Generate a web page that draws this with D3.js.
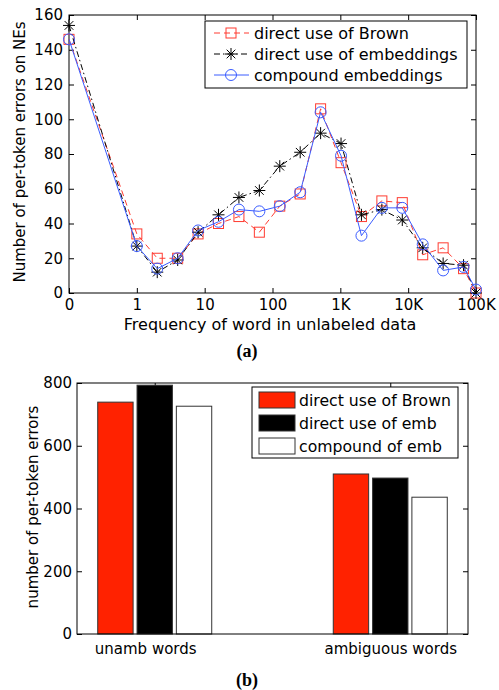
<!DOCTYPE html>
<html>
<head>
<meta charset="utf-8">
<script src="https://cdn.jsdelivr.net/npm/d3@7"></script>
<style>
body { margin: 0; background: #fff; }
text { font-family: "DejaVu Sans", Arial, sans-serif; fill: #000; }
</style>
</head>
<body>
<svg id="chart" width="499" height="690"></svg>
<script>
// ---- data: (a) errors vs word frequency
var freqs = [0, 1, 2, 4, 8, 16, 32, 64, 128, 256, 512, 1024, 2048, 4096, 8192, 16384, 32768, 65536, 100000];
var brownErr = [146, 34, 20, 20, 34, 40, 44, 35, 50, 57, 106, 75, 44, 53, 52, 22, 26, 14, 0];
var embErr = [154, 27, 12, 19, 35, 45, 55, 59, 73, 81, 92, 86, 45, 48, 42, 26, 17, 16, 0];
var compoundErr = [146, 27, 14, 20, 36, 41, 48, 47, 50, 58, 104, 79, 33, 49, 49, 28, 13, 15, 2];
var freqTicks = [0.1, 1, 10, 100, 1000, 10000, 100000];
var freqTickLabels = ["0", "1", "10", "100", "1K", "10K", "100K"];
var lineNames = ["direct use of Brown", "direct use of embeddings", "compound embeddings"];

// ---- data: (b) errors by word type
var wordTypes = ["unamb words    ", "ambiguous words"];
var barNames = ["direct use of Brown", "direct use of emb", "compound of emb"];
var brownBars = [739, 510];
var embBars = [793, 497];
var compoundBars = [726, 436];

var svg = d3.select("#chart");

// =========== chart (a) ===========
var x = d3.scaleLog().domain([0.1, 100000]).range([69, 476]);
var y = d3.scaleLinear().domain([0, 160]).range([293, 15]);
var fx = function(f) { return x(f === 0 ? 0.1 : f); };

var ga = svg.append("g");

ga.append("g")
    .attr("transform", "translate(0,293)")
    .call(d3.axisBottom(x).tickValues(freqTicks)
        .tickFormat(function(d, i) { return freqTickLabels[i]; })
        .tickSizeInner(-5).tickSizeOuter(0).tickPadding(6));
ga.append("g")
    .attr("transform", "translate(0,15)")
    .call(d3.axisTop(x).tickValues(freqTicks).tickFormat("")
        .tickSizeInner(-5).tickSizeOuter(0));
ga.append("g")
    .attr("transform", "translate(69,0)")
    .call(d3.axisLeft(y).ticks(8).tickSizeInner(-5).tickSizeOuter(0).tickPadding(6));
ga.append("g")
    .attr("transform", "translate(476,0)")
    .call(d3.axisRight(y).ticks(8).tickFormat("").tickSizeInner(-5).tickSizeOuter(0));
ga.selectAll(".domain").remove();
ga.selectAll(".tick text").attr("font-size", 15).attr("font-family", null);
ga.append("rect").attr("x", 69).attr("y", 15).attr("width", 476 - 69).attr("height", 293 - 15)
    .attr("fill", "none").attr("stroke", "#000");

var line = d3.line().x(function(d, i) { return fx(freqs[i]); }).y(function(d) { return y(d); });

var red = "#ff3b30", blue = "#3a5cff";

function squareMark(g, cx, cy, col) {
    g.append("rect").attr("x", cx - 5).attr("y", cy - 5).attr("width", 10).attr("height", 10)
        .attr("fill", "none").attr("stroke", col);
}
function starMark(g, cx, cy, col) {
    var r = 6;
    [[-r, 0, r, 0], [0, -r, 0, r], [-r * .72, -r * .72, r * .72, r * .72], [-r * .72, r * .72, r * .72, -r * .72]]
        .forEach(function(s) {
            g.append("line").attr("x1", cx + s[0]).attr("y1", cy + s[1]).attr("x2", cx + s[2]).attr("y2", cy + s[3])
                .attr("stroke", col);
        });
}
function circleMark(g, cx, cy, col) {
    g.append("circle").attr("cx", cx).attr("cy", cy).attr("r", 5.5).attr("fill", "none").attr("stroke", col);
}

var series = [
    { vals: brownErr, col: red, dash: "6,4", mark: squareMark },
    { vals: embErr, col: "#000", dash: "6,3,1.5,3", mark: starMark },
    { vals: compoundErr, col: blue, dash: null, mark: circleMark }
];

series.forEach(function(s) {
    ga.append("path").datum(s.vals).attr("d", line).attr("fill", "none")
        .attr("stroke", s.col).attr("stroke-width", 1).attr("stroke-dasharray", s.dash);
    var mg = ga.append("g");
    s.vals.forEach(function(v, i) { s.mark(mg, fx(freqs[i]), y(v), s.col); });
});

// legend (a)
var la = ga.append("g");
la.append("rect").attr("x", 205).attr("y", 21).attr("width", 262).attr("height", 67)
    .attr("fill", "#fff").attr("stroke", "#000");
series.forEach(function(s, i) {
    var cy = 33 + i * 21;
    la.append("line").attr("x1", 214).attr("x2", 249).attr("y1", cy).attr("y2", cy)
        .attr("stroke", s.col).attr("stroke-dasharray", s.dash);
    s.mark(la, 231, cy, s.col);
    la.append("text").attr("x", 254).attr("y", cy + 6).attr("font-size", 16).text(lineNames[i]);
});

ga.append("text").attr("transform", "translate(25,152) rotate(-90)")
    .attr("text-anchor", "middle").attr("font-size", 15).text("Number of per-token errors on NEs");
ga.append("text").attr("x", 270).attr("y", 330).attr("text-anchor", "middle")
    .attr("font-size", 16).text("Frequency of word in unlabeled data");
ga.append("text").attr("x", 247).attr("y", 357).attr("text-anchor", "middle")
    .attr("font-size", 18).attr("font-weight", "bold").style("font-family", "'Liberation Serif', 'Times New Roman', serif")
    .text("(a)");

// =========== chart (b) ===========
var gb = svg.append("g");
var yb = d3.scaleLinear().domain([0, 800]).range([634, 383]);
var xb = d3.scalePoint().domain(wordTypes).range([77, 468]).padding(0.33);
var xs = d3.scaleBand().domain(barNames).range([-57, 57]).paddingInner(0.1);
var barVals = [brownBars, embBars, compoundBars];
var barCols = ["#ff2200", "#000", "#fff"];

gb.append("g")
    .attr("transform", "translate(77,0)")
    .call(d3.axisLeft(yb).ticks(4).tickSizeInner(-5).tickSizeOuter(0).tickPadding(5));
gb.append("g")
    .attr("transform", "translate(468,0)")
    .call(d3.axisRight(yb).ticks(4).tickFormat("").tickSizeInner(-5).tickSizeOuter(0));
gb.append("g")
    .attr("transform", "translate(0,383)")
    .call(d3.axisTop(xb).tickFormat("").tickSizeInner(-5).tickSizeOuter(0));

wordTypes.forEach(function(w, j) {
    barNames.forEach(function(b, k) {
        gb.append("rect")
            .attr("x", xb(w) + xs(b)).attr("y", yb(barVals[k][j]))
            .attr("width", xs.bandwidth()).attr("height", yb(0) - yb(barVals[k][j]))
            .attr("fill", barCols[k]).attr("stroke", "#333");
    });
});

gb.append("g")
    .attr("transform", "translate(0,634)")
    .call(d3.axisBottom(xb).tickSize(0).tickPadding(9));
gb.selectAll(".domain").remove();
gb.selectAll(".tick text").attr("font-size", 15).attr("font-family", null).style("white-space", "pre");
gb.append("rect").attr("x", 77).attr("y", 383).attr("width", 468 - 77).attr("height", 634 - 383)
    .attr("fill", "none").attr("stroke", "#000");

// legend (b)
var lb = gb.append("g");
lb.append("rect").attr("x", 252).attr("y", 387).attr("width", 206).attr("height", 71)
    .attr("fill", "#fff").attr("stroke", "#000");
barNames.forEach(function(b, i) {
    var cy = 400 + i * 23;
    lb.append("rect").attr("x", 259).attr("y", cy - 8).attr("width", 36).attr("height", 16)
        .attr("fill", barCols[i]).attr("stroke", "#333");
    lb.append("text").attr("x", 299).attr("y", cy + 6).attr("font-size", 15.7).text(b);
});

gb.append("text").attr("transform", "translate(38,507) rotate(-90)")
    .attr("text-anchor", "middle").attr("font-size", 15).text("number of per-token errors");
gb.append("text").attr("x", 247).attr("y", 686).attr("text-anchor", "middle")
    .attr("font-size", 18).attr("font-weight", "bold").style("font-family", "'Liberation Serif', 'Times New Roman', serif")
    .text("(b)");
</script>
</body>
</html>
